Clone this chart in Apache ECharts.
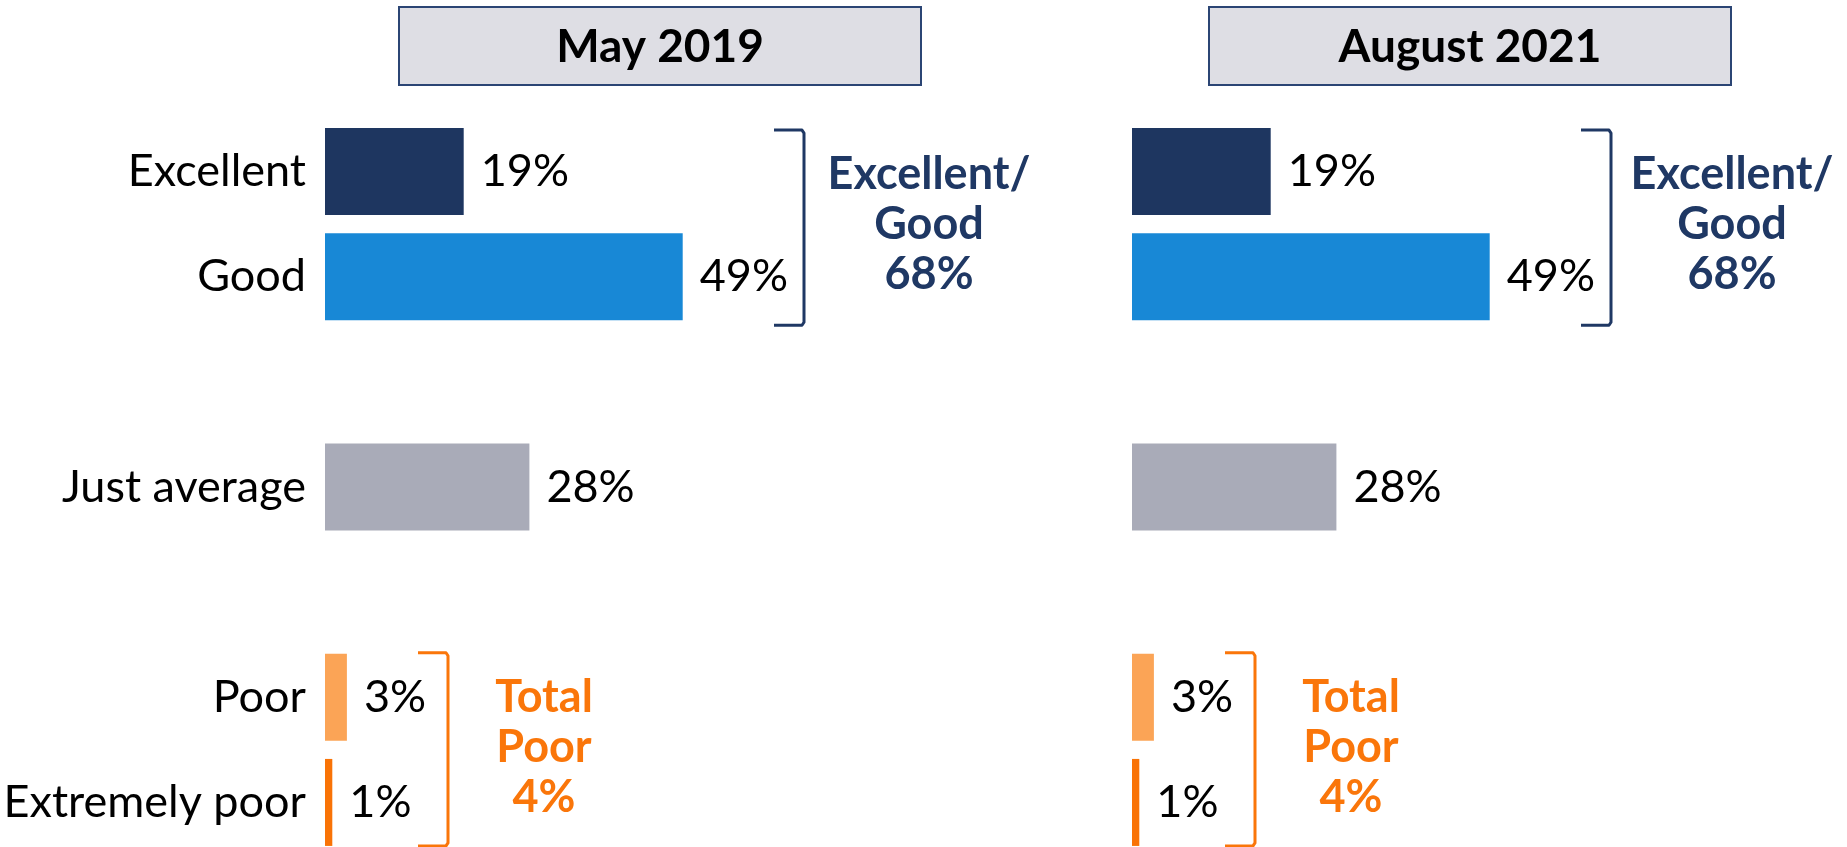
<!DOCTYPE html>
<html>
<head>
<meta charset="utf-8">
<script src="https://cdn.jsdelivr.net/npm/echarts@6/dist/echarts.min.js"></script>
<style>
html,body{margin:0;padding:0;background:#fff;overflow:hidden;}
#chart{width:1847px;height:847px;}
</style>
</head>
<body>
<div id="chart"></div>
<script>
// ---- data ----
const categories = ['Excellent', 'Good', '', 'Just average', '', 'Poor', 'Extremely poor'];
const may2019 = [19, 49, null, 28, null, 3, 1];
const aug2021 = [19, 49, null, 28, null, 3, 1];
const panelTitles = ['May 2019', 'August 2021'];
const topGroupLabel = 'Excellent/\nGood\n68%';
const bottomGroupLabel = 'Total\nPoor\n4%';

// ---- styles ----
const barColors = ['#1E3660', '#1888D6', null, '#A9ABB8', null, '#FBA456', '#F97306'];
const navy = '#1F3864';
const orange = '#FA760A';
const FONT = 'Lato, "Open Sans", "Liberation Sans", sans-serif';
const FS = 45;

const chart = echarts.init(document.getElementById('chart'), null, {renderer: 'canvas'});

function seriesFor(values, idx) {
  return {
    type: 'bar',
    xAxisIndex: idx,
    yAxisIndex: idx,
    barWidth: 87,
    data: values.map((v, i) => v == null ? '-' : {value: v, itemStyle: {color: barColors[i]}}),
    label: {
      show: true,
      position: 'right',
      distance: 17,
      formatter: '{c}%',
      fontFamily: FONT,
      fontSize: FS,
      color: '#000'
    },
    silent: true,
    animation: false
  };
}

const gridTop = 119, gridHeight = 736;
const option = {
  animation: false,
  grid: [
    {left: 325, top: gridTop, width: 584, height: gridHeight, outerBoundsMode: 'none', containLabel: false},
    {left: 1132, top: gridTop, width: 584, height: gridHeight, outerBoundsMode: 'none', containLabel: false}
  ],
  xAxis: [
    {type: 'value', gridIndex: 0, min: 0, max: 80, show: false},
    {type: 'value', gridIndex: 1, min: 0, max: 80, show: false}
  ],
  yAxis: [
    {type: 'category', gridIndex: 0, data: categories, inverse: true,
     axisLine: {show: false}, axisTick: {show: false}, splitLine: {show: false},
     axisLabel: {fontFamily: FONT, fontSize: FS, color: '#000', margin: 19}},
    {type: 'category', gridIndex: 1, data: categories, inverse: true,
     axisLine: {show: false}, axisTick: {show: false}, splitLine: {show: false},
     axisLabel: {show: false}}
  ],
  series: [seriesFor(may2019, 0), seriesFor(aug2021, 1)]
};
chart.setOption(option);

// ---- annotations positioned from the axes ----
function px(gridIdx, x, cat) {
  return chart.convertToPixel({xAxisIndex: gridIdx, yAxisIndex: gridIdx}, [x, cat]);
}
const graphics = [];
const half = 87 / 2;
[0, 1].forEach(g => {
  const left = px(g, 0, 0)[0];
  // title box
  const boxL = left + (g === 0 ? 74 : 77);
  graphics.push({
    type: 'rect', shape: {x: boxL, y: 7, width: 522, height: 78},
    style: {fill: '#DEDEE4', stroke: '#2B4574', lineWidth: 2}, silent: true
  });
  graphics.push({
    type: 'text', x: boxL + 261, y: 47,
    style: {text: panelTitles[g], fontFamily: FONT, fontSize: 46, fontWeight: 'bold',
            fill: '#000', align: 'center', verticalAlign: 'middle'}, silent: true
  });
  // navy bracket
  const yTop = px(g, 0, 0)[1] - half + 2;
  const yBot = px(g, 0, 1)[1] + half + 5;
  const bx = left + 479;
  graphics.push({
    type: 'polyline', shape: {points: [[bx - 30, yTop], [bx - 2, yTop], [bx, yTop + 3], [bx, yBot - 3], [bx - 2, yBot], [bx - 30, yBot]]},
    style: {stroke: navy, lineWidth: 3, fill: null, lineJoin: 'round'}, silent: true
  });
  graphics.push({
    type: 'text', x: bx + (g === 0 ? 125 : 121), y: (yTop + yBot) / 2 - 3,
    style: {text: topGroupLabel, fontFamily: FONT, fontSize: 45, fontWeight: 'bold', lineHeight: 50,
            fill: navy, align: 'center', verticalAlign: 'middle'}, silent: true
  });
  // orange bracket
  const oTop = px(g, 0, 5)[1] - half - 1;
  const oBot = px(g, 0, 6)[1] + half;
  const ox = left + 123;
  graphics.push({
    type: 'polyline', shape: {points: [[ox - 30, oTop], [ox - 2, oTop], [ox, oTop + 3], [ox, oBot - 3], [ox - 2, oBot], [ox - 30, oBot]]},
    style: {stroke: orange, lineWidth: 3, fill: null, lineJoin: 'round'}, silent: true
  });
  graphics.push({
    type: 'text', x: ox + 96, y: (oTop + oBot) / 2 - 2,
    style: {text: bottomGroupLabel, fontFamily: FONT, fontSize: 45, fontWeight: 'bold', lineHeight: 50,
            fill: orange, align: 'center', verticalAlign: 'middle'}, silent: true
  });
});
chart.setOption({graphic: graphics});
</script>
</body>
</html>
